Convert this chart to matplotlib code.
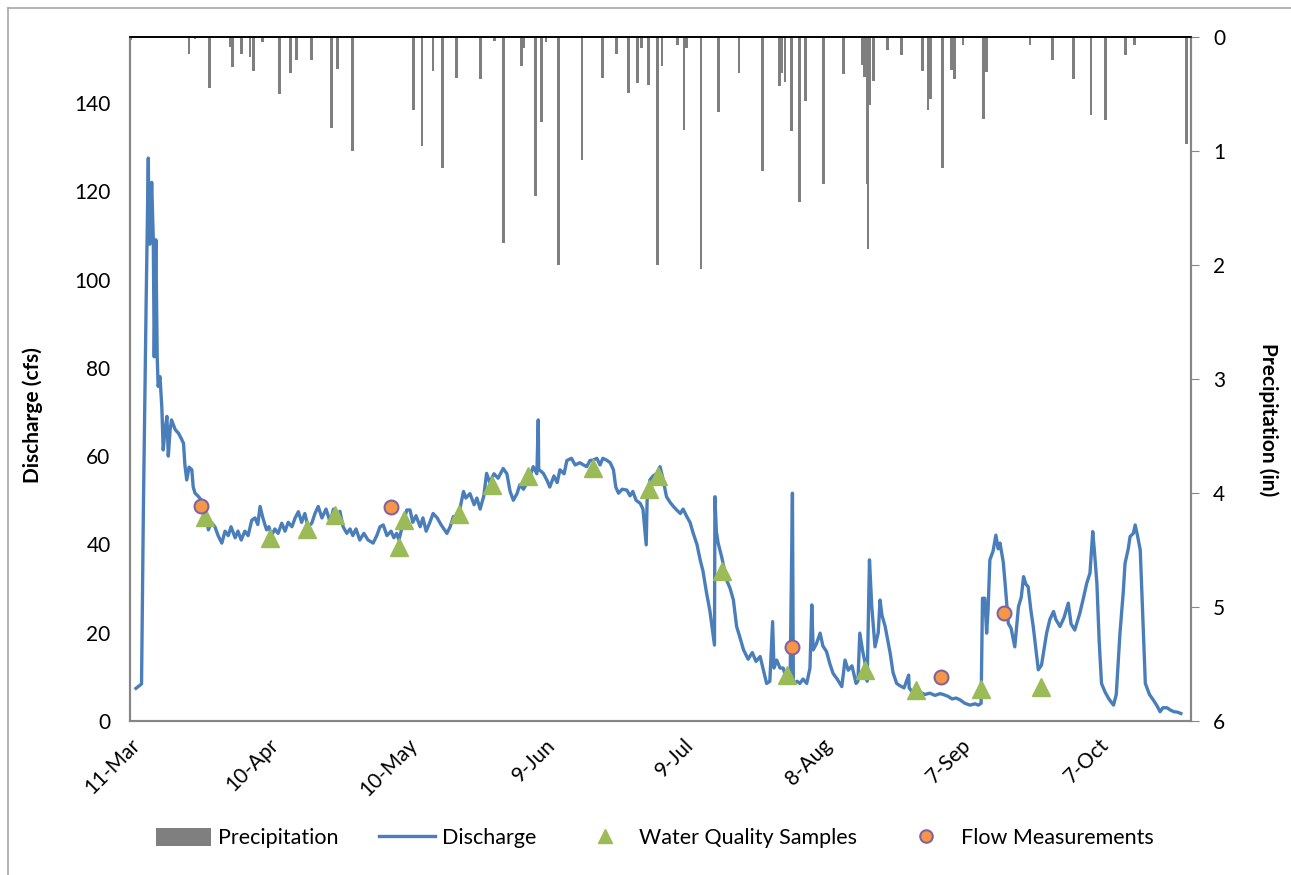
import numpy as np
import pandas as pd
import matplotlib
matplotlib.use("Agg")
import matplotlib.pyplot as plt
from matplotlib.lines import Line2D
from matplotlib.patches import Patch

plt.rcParams['font.family'] = ['Lato', 'DejaVu Sans']

start = pd.Timestamp("2013-03-11")

# discharge (cfs): (days after 11-Mar, value)
discharge_pts = [
    (1.3, 7.4), (2.5, 8.4), (2.9, 47.8), (3.5, 95), (3.97, 127.5), (4.1, 110), (4.3, 108),
    (4.7, 122), (5.05, 109), (5.25, 82.5), (5.6, 109), (5.9, 82.5), (6.1, 75.8), (6.5, 78),
    (6.9, 71), (7.2, 61.4), (7.6, 66), (8.0, 69), (8.3, 60), (8.7, 66), (9.0, 68.2),
    (9.8, 66), (10.5, 65.2), (11.1, 64), (11.6, 62.9), (11.9, 58), (12.3, 54.6), (12.8, 57.5),
    (13.4, 56.9), (13.7, 53), (14.1, 51.6), (14.7, 51), (15.5, 50), (16.0, 48), (16.5, 46),
    (17.0, 43.3), (17.6, 45), (18.4, 44), (19.1, 42), (19.9, 40.3), (20.6, 43), (21.3, 42),
    (21.9, 44), (22.8, 41.5), (23.4, 43), (24.1, 41), (24.9, 43), (25.6, 42), (26.4, 45.5),
    (27.1, 46), (27.7, 44.5), (28.2, 48.6), (28.8, 46), (29.6, 43.3), (30.1, 44), (30.7, 42),
    (31.4, 43.5), (32.1, 42.5), (32.9, 44.8), (33.6, 43), (34.3, 45), (35.1, 44), (35.8, 46),
    (36.5, 47.4), (37.2, 45), (37.9, 47), (38.6, 44), (39.4, 44.8), (40.1, 47), (40.8, 48.6),
    (41.6, 46), (42.5, 48), (43.4, 45), (44.1, 48), (44.9, 46), (45.5, 47.5), (46.2, 44),
    (47.0, 42.5), (47.7, 43.5), (48.3, 42), (49.0, 43.5), (49.8, 41), (50.7, 42.5), (51.6, 41),
    (52.7, 40.3), (53.5, 42), (54.2, 44), (54.9, 44.4), (55.7, 42), (56.6, 43), (57.2, 41.5),
    (57.8, 42.5), (58.3, 41), (59.0, 44), (60.0, 47.8), (60.7, 47.8), (61.3, 45), (62.0, 46.5),
    (62.9, 44), (63.5, 46), (64.2, 43), (65.0, 45), (65.7, 47), (66.6, 46), (67.4, 44.5),
    (68.7, 42.5), (69.4, 44), (70.1, 46.3), (70.9, 45), (71.5, 48), (72.3, 52), (72.8, 50.5),
    (73.7, 51.5), (74.6, 49), (75.2, 50.5), (75.9, 48), (76.7, 51), (77.3, 56.1), (78.0, 54),
    (78.9, 56), (79.8, 55), (80.9, 57.2), (81.7, 56), (82.4, 52), (83.1, 50), (83.9, 51.5),
    (84.5, 53.5), (85.3, 52.5), (86.1, 54), (86.7, 55.5), (87.4, 57.6), (88.2, 56), (88.5, 68.2),
    (88.6, 57), (89.6, 56.1), (90.4, 54.5), (91.0, 53), (91.9, 55.5), (92.6, 54), (93.2, 56.9),
    (94.1, 56), (94.7, 59), (95.7, 59.5), (96.5, 58), (97.5, 58.5), (99.0, 57.6), (99.7, 59),
    (100.4, 59.1), (101.2, 59.5), (101.9, 58), (102.5, 59.5), (103.3, 59.1), (104.1, 58.5),
    (104.8, 56.9), (105.3, 53), (105.9, 51.6), (106.7, 52.5), (107.7, 52.3), (108.4, 51),
    (109.0, 52), (109.7, 50), (110.6, 49.3), (111.2, 48), (111.9, 39.9), (112.1, 50),
    (112.7, 54.6), (113.4, 55.5), (114.2, 56.1), (114.9, 57.6), (115.5, 55), (116.3, 50.8),
    (117.1, 49.5), (117.8, 48.6), (118.5, 47.8), (119.3, 47), (119.9, 48), (120.7, 46.3),
    (121.4, 45), (122.1, 42.5), (122.9, 40), (123.6, 36.5), (124.2, 34), (125.0, 28.9),
    (125.7, 25), (126.7, 17.2), (126.8, 50.8), (127.1, 43), (127.5, 40.3), (128.3, 37),
    (129.3, 32), (130.1, 30), (130.8, 27.4), (131.5, 21.4), (132.2, 19), (133.0, 16.1),
    (134.0, 14), (134.9, 15.5), (135.7, 13.5), (136.6, 14.6), (137.2, 12), (138.0, 8.5),
    (138.7, 9), (139.3, 22.5), (139.6, 12), (140.2, 13.8), (140.9, 12), (141.6, 12),
    (142.4, 9), (143.1, 9.5), (143.6, 51.6), (143.8, 8.5), (144.6, 9), (145.2, 8.5),
    (145.9, 9.5), (146.7, 8.5), (147.4, 12), (147.8, 26.3), (148.1, 16.1), (148.8, 17.5),
    (149.6, 19.9), (150.2, 17), (151.0, 15.7), (151.7, 13), (152.4, 10.8), (153.3, 9.5),
    (154.3, 7.8), (155.0, 13.8), (155.7, 11.5), (156.5, 12.5), (157.4, 8.5), (157.8, 9),
    (158.2, 19.9), (158.8, 16), (159.3, 13.4), (159.8, 9), (160.3, 36.5), (160.8, 25.9),
    (161.5, 16.8), (162.2, 20), (162.6, 27.4), (163.0, 24), (163.7, 21.4), (164.3, 18),
    (164.8, 15.3), (165.4, 11), (166.2, 8.5), (166.9, 8), (167.8, 7.5), (168.8, 10.4),
    (168.9, 7.5), (169.8, 6.3), (171.3, 6.5), (172.3, 6.0), (173.4, 6.3), (174.5, 5.8),
    (175.6, 6.2), (176.3, 6.0), (177.3, 5.6), (178.2, 5.0), (179.1, 5.2), (179.9, 4.8),
    (181.0, 4.0), (182.1, 3.6), (183.2, 3.9), (183.9, 3.6), (184.5, 4.0), (184.8, 27.8),
    (185.3, 27.8), (185.7, 19.9), (186.0, 25), (186.4, 36.5), (187.1, 38.5), (187.7, 42.1),
    (188.2, 39), (188.6, 40.3), (189.3, 36), (189.7, 31.2), (190.4, 22.1), (191.0, 21),
    (191.8, 16.8), (192.6, 25.9), (193.2, 28), (193.7, 32.7), (194.2, 31), (194.7, 30.4),
    (195.3, 25), (195.8, 21.4), (196.4, 16), (196.9, 11.6), (197.6, 12.7), (198.1, 16),
    (198.7, 19.9), (199.4, 23), (200.2, 24.8), (200.7, 23), (201.6, 21.4), (202.5, 23.5),
    (203.4, 26.7), (204.0, 22), (204.8, 20.6), (205.5, 23), (205.9, 24.4), (206.6, 27.5),
    (207.4, 31.2), (208.1, 33.5), (208.7, 42.9), (209.1, 38), (209.6, 31.2), (210.1, 18),
    (210.6, 8.5), (211.4, 6.5), (212.2, 5), (213.2, 3.6), (213.8, 6), (214.6, 19.9),
    (215.3, 29), (215.7, 35.7), (216.4, 39), (216.8, 41.8), (217.5, 42.5), (217.9, 44.4),
    (218.4, 42), (219.0, 38.7), (219.5, 25), (220.1, 8.5), (221.0, 6), (221.8, 4.8),
    (222.6, 3.5), (223.3, 2.1), (223.9, 3.0), (224.8, 3.0), (225.5, 2.5), (226.3, 2.1),
    (227.1, 2.0), (227.8, 1.7),
]

# precipitation (in)
precip_day = [0.2, 12.8, 14.1, 17.2, 21.7, 22.3, 24.1, 26.0, 26.7, 28.7, 32.4, 34.8, 36.1,
              39.3, 43.6, 45.0, 48.2, 61.4, 63.3, 65.7, 67.7, 70.8, 75.9, 79.0, 80.9, 84.8,
              85.4, 87.9, 89.2, 90.2, 92.9, 98.0, 102.4, 105.5, 108.1, 110.0, 110.8, 112.4,
              114.4, 115.3, 118.7, 120.1, 120.7, 123.8, 127.5, 132.0, 137.1, 140.8, 141.3,
              142.0, 143.4, 145.2, 146.5, 150.3, 154.7, 158.7, 159.3, 159.8, 160.0, 160.4,
              161.1, 164.2, 167.3, 171.8, 173.0, 173.6, 176.2, 178.1, 178.7, 180.6, 185.0,
              185.6, 195.1, 200.0, 204.6, 208.3, 211.5, 215.8, 217.8, 229.1]
precip_in = [0.03, 0.15, 0.02, 0.45, 0.09, 0.27, 0.15, 0.18, 0.30, 0.05, 0.50, 0.32, 0.20,
             0.20, 0.80, 0.28, 1.00, 0.64, 0.96, 0.30, 1.15, 0.36, 0.37, 0.04, 1.81, 0.26,
             0.10, 1.40, 0.75, 0.05, 2.00, 1.08, 0.36, 0.15, 0.49, 0.41, 0.10, 0.42,
             2.00, 0.26, 0.07, 0.82, 0.10, 2.04, 0.66, 0.32, 1.18, 0.43, 0.32,
             0.40, 0.83, 1.45, 0.56, 1.29, 0.33, 0.25, 0.35, 1.29, 1.86, 0.60,
             0.39, 0.12, 0.16, 0.30, 0.64, 0.55, 1.15, 0.29, 0.37, 0.07, 0.72,
             0.31, 0.07, 0.20, 0.37, 0.69, 0.73, 0.16, 0.07, 0.94]

wq_day = [16.3, 30.3, 38.4, 44.4, 58.4, 59.4, 71.3, 78.4, 86.3, 100.3, 112.4, 114.4,
          128.4, 142.5, 159.3, 170.4, 184.4, 197.4]
wq_cfs = [46.3, 41.4, 43.6, 46.7, 39.5, 45.5, 46.8, 53.5, 55.4, 57.3, 52.5, 55.4,
          34.0, 10.4, 11.6, 7.0, 7.3, 7.8]

flow_day = [15.3, 56.6, 143.6, 175.7, 189.5]
flow_cfs = [48.6, 48.4, 16.8, 10.0, 24.5]

q_day, q_cfs = zip(*discharge_pts)
to_date = lambda d: start + pd.to_timedelta(np.array(d), unit="D")

fig = plt.figure(figsize=(12.91, 8.75), dpi=100)
ax = fig.add_axes([130 / 1291, 1 - 721 / 875, 1061 / 1291, 684.3 / 875])
ax2 = ax.twinx()

# precipitation bars hang from the top
ax2.bar(to_date(precip_day), precip_in, width=0.6, color="#7f7f7f", align="center")
ax2.set_ylim(6, 0)
ax2.set_yticks(range(7))

ax.plot(to_date(q_day), q_cfs, color="#4a7ebb", lw=2.4, solid_joinstyle="round")
ax.plot(to_date(wq_day), wq_cfs, ls="none", marker="^", ms=13.5, color="#9bbb59", mec="#9bbb59")
ax.plot(to_date(flow_day), flow_cfs, ls="none", marker="o", ms=10, mfc="#f79646",
        mec="#8064a2", mew=1.5)

ax.set_zorder(ax2.get_zorder() + 1)
ax.patch.set_visible(False)

ax.set_ylim(0, 155)
ax.set_yticks(range(0, 141, 20))
ax.set_xlim(start, start + pd.Timedelta(days=230))
ticks = [start + pd.Timedelta(days=30 * i) for i in range(8)]
ax.set_xticks(ticks)
ax.set_xticklabels([f"{t.day}-{t.strftime('%b')}" for t in ticks], rotation=45,
                   ha="right", rotation_mode="anchor")

grey = "#868686"
for a in (ax, ax2):
    for s in a.spines.values():
        s.set_color(grey)
        s.set_linewidth(1.5)
    a.spines["top"].set_color("black")
    a.spines["top"].set_linewidth(1.2)
ax.tick_params(axis="y", length=0, labelsize=15, pad=14)
ax.tick_params(axis="x", length=0, labelsize=15, pad=10)
ax2.tick_params(axis="y", length=6, color=grey, labelsize=15, pad=10)

fig.text(33 / 1291, 1 - 415 / 875, "Discharge (cfs)", rotation=90, fontsize=15,
         fontweight="bold", ha="center", va="center")
fig.text(1268 / 1291, 1 - 420 / 875, "Precipitation (in)", rotation=270, fontsize=15,
         fontweight="bold", ha="center", va="center")

handles = [
    Patch(facecolor="#7f7f7f"),
    Line2D([], [], color="#4a7ebb", lw=2.4),
    Line2D([], [], ls="none", marker="^", ms=10, color="#9bbb59"),
    Line2D([], [], ls="none", marker="o", ms=9, mfc="#f79646", mec="#8064a2", mew=1.5),
]
fig.legend(handles, ["Precipitation", "Discharge", "Water Quality Samples", "Flow Measurements"],
           loc="center", bbox_to_anchor=(0.507, 1 - 838 / 875), ncol=4, frameon=False,
           fontsize=15.5, handlelength=2.6, handleheight=0.9, columnspacing=1.9, handletextpad=0.3)

# chart area border
fig.add_artist(plt.Line2D([8 / 1291, 8 / 1291], [0, 1 - 8 / 875], color="#a6a6a6", lw=1.2))
fig.add_artist(plt.Line2D([8 / 1291, 1], [1 - 8 / 875, 1 - 8 / 875], color="#a6a6a6", lw=1.2))

fig.savefig("out.png", dpi=100)
